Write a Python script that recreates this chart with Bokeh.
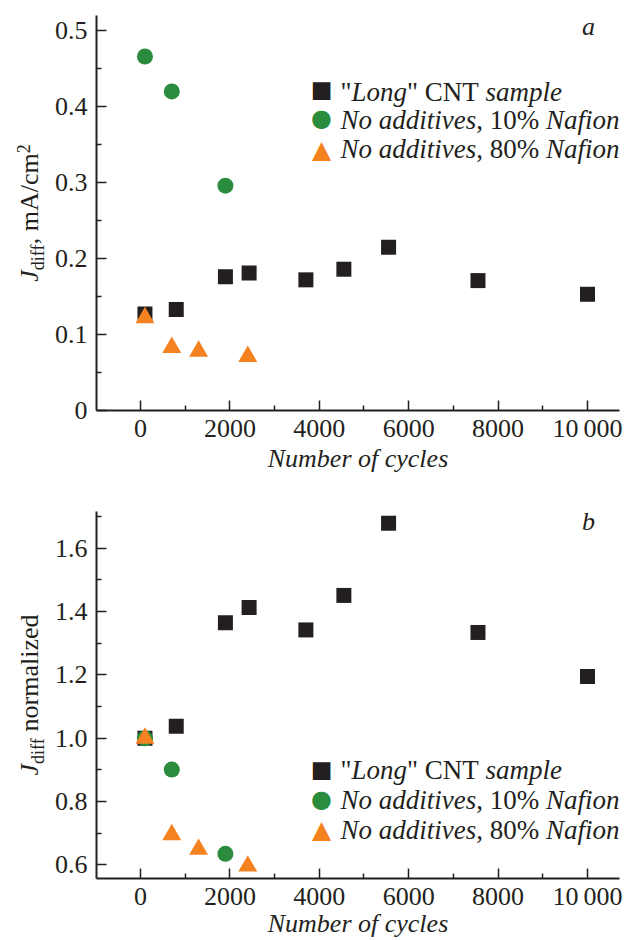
import math
from bokeh.plotting import figure
from bokeh.layouts import column
from bokeh.models import Range1d, FixedTicker, Label
from bokeh.embed import file_html
from bokeh.resources import INLINE

# ---------------- data ----------------
cycles_long = [100, 800, 1900, 2430, 3700, 4550, 5550, 7550, 10000]
jdiff_long = [0.127, 0.133, 0.176, 0.181, 0.172, 0.186, 0.215, 0.171, 0.153]
norm_long = [1.000, 1.038, 1.365, 1.413, 1.342, 1.451, 1.679, 1.334, 1.195]

cycles_n10 = [100, 700, 1900]
jdiff_n10 = [0.466, 0.420, 0.296]
norm_n10 = [1.000, 0.901, 0.635]

cycles_n80 = [100, 700, 1300, 2400]
jdiff_n80 = [0.122, 0.083, 0.078, 0.071]
norm_n80 = [1.000, 0.695, 0.649, 0.596]

x_limits = (-984, 10716)
x_ticks = [0, 2000, 4000, 6000, 8000, 10000]
x_minor_ticks = [1000, 3000, 5000, 7000, 9000]
x_tick_labels = ["0", "2000", "4000", "6000", "8000", "10\u2009000"]

ya_limits = (0.0, 0.52)
ya_ticks = [0, 0.1, 0.2, 0.3, 0.4, 0.5]
ya_minor_ticks = [0.05, 0.15, 0.25, 0.35, 0.45]
ya_tick_labels = ["0", "0.1", "0.2", "0.3", "0.4", "0.5"]

yb_limits = (0.556, 1.717)
yb_ticks = [0.6, 0.8, 1.0, 1.2, 1.4, 1.6]
yb_minor_ticks = [0.7, 0.9, 1.1, 1.3, 1.5, 1.7]
yb_tick_labels = ["0.6", "0.8", "1.0", "1.2", "1.4", "1.6"]

legend_pieces = [
    [('"', "normal"), ("Long", "italic"), ('" CNT ', "normal"), ("sample", "italic")],
    [("No additives", "italic"), (", 10% ", "normal"), ("Nafion", "italic")],
    [("No additives", "italic"), (", 80% ", "normal"), ("Nafion", "italic")],
]
legend_symbols = ["\u25A0", "\u25CF", "\u25B2"]

# ---------------- style ----------------
FONT = "'Liberation Serif', 'Times New Roman', serif"
INK = "#231f20"
GREEN = "#2a8c3c"
ORANGE = "#f58220"
COLORS = [INK, GREEN, ORANGE]
SYMBOL_SIZES = ["23px", "24px", "25px"]
LEGEND_FS = 27

W_REG = {" ": 250, ",": 250, ".": 250, "%": 833, '"': 408, "/": 278, "A": 722, "C": 667,
         "N": 722, "T": 611, "a": 444, "c": 444, "d": 500, "e": 444, "f": 333, "i": 278,
         "l": 278, "m": 778, "n": 500, "o": 500, "r": 333, "z": 444}
W_ITA = {" ": 250, "J": 444, "L": 556, "N": 667, "a": 500, "d": 500, "e": 444, "f": 278,
         "g": 500, "i": 278, "l": 278, "m": 722, "n": 500, "o": 500, "p": 500, "s": 389,
         "t": 278, "v": 444}


def text_w(s, style, size):
    table = W_ITA if style == "italic" else W_REG
    return sum(table.get(ch, 500) for ch in s) * size / 1000.0


FIG_W = 623
AREA_L, AREA_R = 96, 619   # pixel columns of the plotting area inside each figure


def ext_range(lo, hi, p0, p1, total):
    """Extend [lo, hi] (which sits between pixels p0..p1) to the full canvas 0..total."""
    k = (hi - lo) / (p1 - p0)
    return lo - p0 * k, hi + (total - p1) * k


def add_run(p, x, y, pieces, xo, yo, vertical=False):
    pos = 0.0
    for txt, style, size, shift in pieces:
        lead = len(txt) - len(txt.lstrip(" "))
        shown = txt.strip(" ")
        off = pos + text_w(" " * lead, style, size)
        if vertical:
            lab = Label(x=x, y=y, x_offset=xo + shift, y_offset=yo + off,
                        angle=math.pi / 2, angle_units="rad")
        else:
            lab = Label(x=x, y=y, x_offset=xo + off, y_offset=yo + shift)
        lab.text = shown
        lab.text_font = FONT
        lab.text_font_style = style
        lab.text_font_size = f"{size}px"
        lab.text_color = INK
        lab.text_align = "left"
        lab.text_baseline = "middle"
        p.add_layout(lab)
        pos += text_w(txt, style, size)


def make_panel(height, area_top, area_bottom, y_limits, y_ticks, y_minor, y_labels,
               ys, letter, letter_dy, legend_from_top, legend_text_dy, legend_marker_dy,
               ylabel_pieces, xlabel_dy):
    x_lo, x_hi = x_limits
    y_lo, y_hi = y_limits
    xr = ext_range(x_lo, x_hi, AREA_L, AREA_R, FIG_W)
    yr = ext_range(y_lo, y_hi, height - area_bottom, height - area_top, height)
    p = figure(width=FIG_W, height=height, output_backend="svg", toolbar_location=None,
               x_range=Range1d(*xr), y_range=Range1d(*yr),
               min_border=0, min_border_left=0, min_border_right=0,
               min_border_top=0, min_border_bottom=0)
    p.outline_line_color = None
    p.xgrid.grid_line_color = None
    p.ygrid.grid_line_color = None
    p.background_fill_color = "white"
    p.border_fill_color = "white"

    p.xaxis.fixed_location = y_lo
    p.yaxis.fixed_location = x_lo
    p.xaxis.bounds = (x_lo, x_hi)
    p.yaxis.bounds = (y_lo, y_hi)

    p.xaxis.ticker = FixedTicker(ticks=x_ticks, minor_ticks=x_minor_ticks)
    p.xaxis.major_label_overrides = {t: l for t, l in zip(x_ticks, x_tick_labels)}
    p.yaxis.ticker = FixedTicker(ticks=y_ticks, minor_ticks=y_minor)
    p.yaxis.major_label_overrides = {t: l for t, l in zip(y_ticks, y_labels)}

    for ax in (p.xaxis[0], p.yaxis[0]):
        ax.axis_line_width = 2
        ax.axis_line_color = INK
        ax.major_tick_in = 10
        ax.major_tick_out = 0
        ax.minor_tick_in = 5
        ax.minor_tick_out = 0
        ax.major_tick_line_width = 1.5
        ax.minor_tick_line_width = 1.5
        ax.major_tick_line_color = INK
        ax.minor_tick_line_color = INK
        ax.major_label_text_font = FONT
        ax.major_label_text_font_size = "26px"
        ax.major_label_text_color = INK
    p.xaxis.major_label_standoff = 3
    p.yaxis.major_label_standoff = 9

    p.scatter(cycles_long, ys[0], marker="square", size=15, fill_color=INK, line_color=None)
    p.scatter(cycles_n10, ys[1], marker="circle", size=16, fill_color=GREEN, line_color=None)
    p.scatter(cycles_n80, ys[2], marker="triangle", size=19, fill_color=ORANGE, line_color=None)

    # legend (manual: mixed italic / roman text)
    y_ref = y_hi if legend_from_top else y_lo
    for i in range(3):
        p.add_layout(Label(x=x_lo, y=y_ref, x_offset=225, y_offset=legend_marker_dy[i],
                           text=legend_symbols[i], text_font="DejaVu Sans",
                           text_font_size=SYMBOL_SIZES[i], text_color=COLORS[i],
                           text_align="center", text_baseline="middle"))
        add_run(p, x_lo, y_ref, [(t, s, LEGEND_FS, 0) for t, s in legend_pieces[i]],
                244, legend_text_dy[i])

    # panel letter
    p.add_layout(Label(x=x_hi, y=y_hi, x_offset=-31, y_offset=letter_dy, text=letter,
                       text_font=FONT, text_font_style="italic", text_font_size="26px",
                       text_color=INK, text_align="center", text_baseline="middle"))

    # x axis title
    p.add_layout(Label(x=(x_lo + x_hi) / 2, y=y_lo, y_offset=xlabel_dy,
                       text="Number of cycles", text_font=FONT, text_font_style="italic",
                       text_font_size="26px", text_color=INK, text_align="center",
                       text_baseline="middle"))

    # y axis title (rotated, with sub/superscripts)
    total = sum(text_w(t, s, sz) for t, s, sz, _ in ylabel_pieces)
    add_run(p, x_lo, (y_lo + y_hi) / 2, ylabel_pieces, -67, -total / 2, vertical=True)
    return p


ylabel_a = [("J", "italic", 26, 0), ("diff", "normal", 18, 8),
            (", mA/cm", "normal", 26, 0), ("2", "normal", 18, -6)]
ylabel_b = [("J", "italic", 26, 0), ("diff", "normal", 18, 8),
            (" normalized", "normal", 26, 0)]

H1, H2 = 474, 466
p1 = make_panel(H1, 15, 410, ya_limits, ya_ticks, ya_minor_ticks, ya_tick_labels,
                [jdiff_long, jdiff_n10, jdiff_n80], "a", -11, True,
                [-76, -104, -133], [-73, -102, -134], ylabel_a, -48)
p2 = make_panel(H2, 510.7 - H1, 878.3 - H1, yb_limits, yb_ticks, yb_minor_ticks,
                yb_tick_labels, [norm_long, norm_n10, norm_n80], "b", -10, False,
                [109, 79, 49], [110, 80, 49], ylabel_b, -45)

layout = column(p1, p2)
open("out.html", "w").write(file_html(layout, INLINE))
